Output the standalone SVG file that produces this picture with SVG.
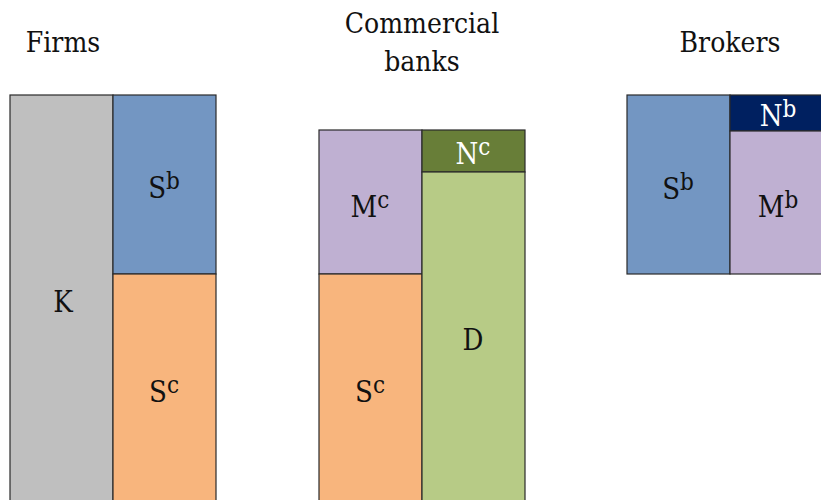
<svg xmlns="http://www.w3.org/2000/svg" width="821" height="500" viewBox="0 0 821 500">
<style>
text{font-family:'DejaVu Serif Condensed','DejaVu Serif',serif;font-stretch:condensed;fill:#111;text-anchor:middle}
.h{font-size:28px}
.l{font-size:29px}
.w{fill:#fff}
.s{font-size:24px}
.b{stroke:#2a2a2a;stroke-width:1.2}
</style>
<g id="titles">
<text class="h" x="63" y="52">Firms</text>
<text class="h" x="422" y="33">Commercial</text>
<text class="h" x="422" y="71">banks</text>
<text class="h" x="730" y="52">Brokers</text>
</g>
<g id="firms-K"><rect class="b" x="10" y="95" width="103" height="410" fill="#BFBFBF"/><text class="l" x="63" y="312">K</text></g>
<g id="firms-Sb"><rect class="b" x="113" y="95" width="103" height="179" fill="#7396C2"/><text class="l" x="164" y="198">S<tspan class="s" dy="-9">b</tspan></text></g>
<g id="firms-Sc"><rect class="b" x="113" y="274" width="103" height="231" fill="#F8B57D"/><text class="l" x="164" y="402">S<tspan class="s" dy="-9">c</tspan></text></g>
<g id="banks-Mc"><rect class="b" x="319" y="130" width="103" height="144" fill="#BFB0D2"/><text class="l" x="370" y="217">M<tspan class="s" dy="-9">c</tspan></text></g>
<g id="banks-Sc"><rect class="b" x="319" y="274" width="103" height="231" fill="#F8B57D"/><text class="l" x="370" y="402">S<tspan class="s" dy="-9">c</tspan></text></g>
<g id="banks-Nc"><rect class="b" x="422" y="130" width="103" height="42" fill="#687E38"/><text class="l w" x="473" y="164">N<tspan class="s w" dy="-9">c</tspan></text></g>
<g id="banks-D"><rect class="b" x="422" y="172" width="103" height="333" fill="#B7CB86"/><text class="l" x="473" y="350">D</text></g>
<g id="brokers-Sb"><rect class="b" x="627" y="95" width="103" height="179" fill="#7396C2"/><text class="l" x="678" y="199">S<tspan class="s" dy="-9">b</tspan></text></g>
<g id="brokers-Nb"><rect class="b" x="730" y="95" width="103" height="36" fill="#002060"/><text class="l w" x="778" y="126">N<tspan class="s w" dy="-9">b</tspan></text></g>
<g id="brokers-Mb"><rect class="b" x="730" y="131" width="103" height="143" fill="#BFB0D2"/><text class="l" x="778" y="217">M<tspan class="s" dy="-9">b</tspan></text></g>
<g id="connectors"/>
</svg>
